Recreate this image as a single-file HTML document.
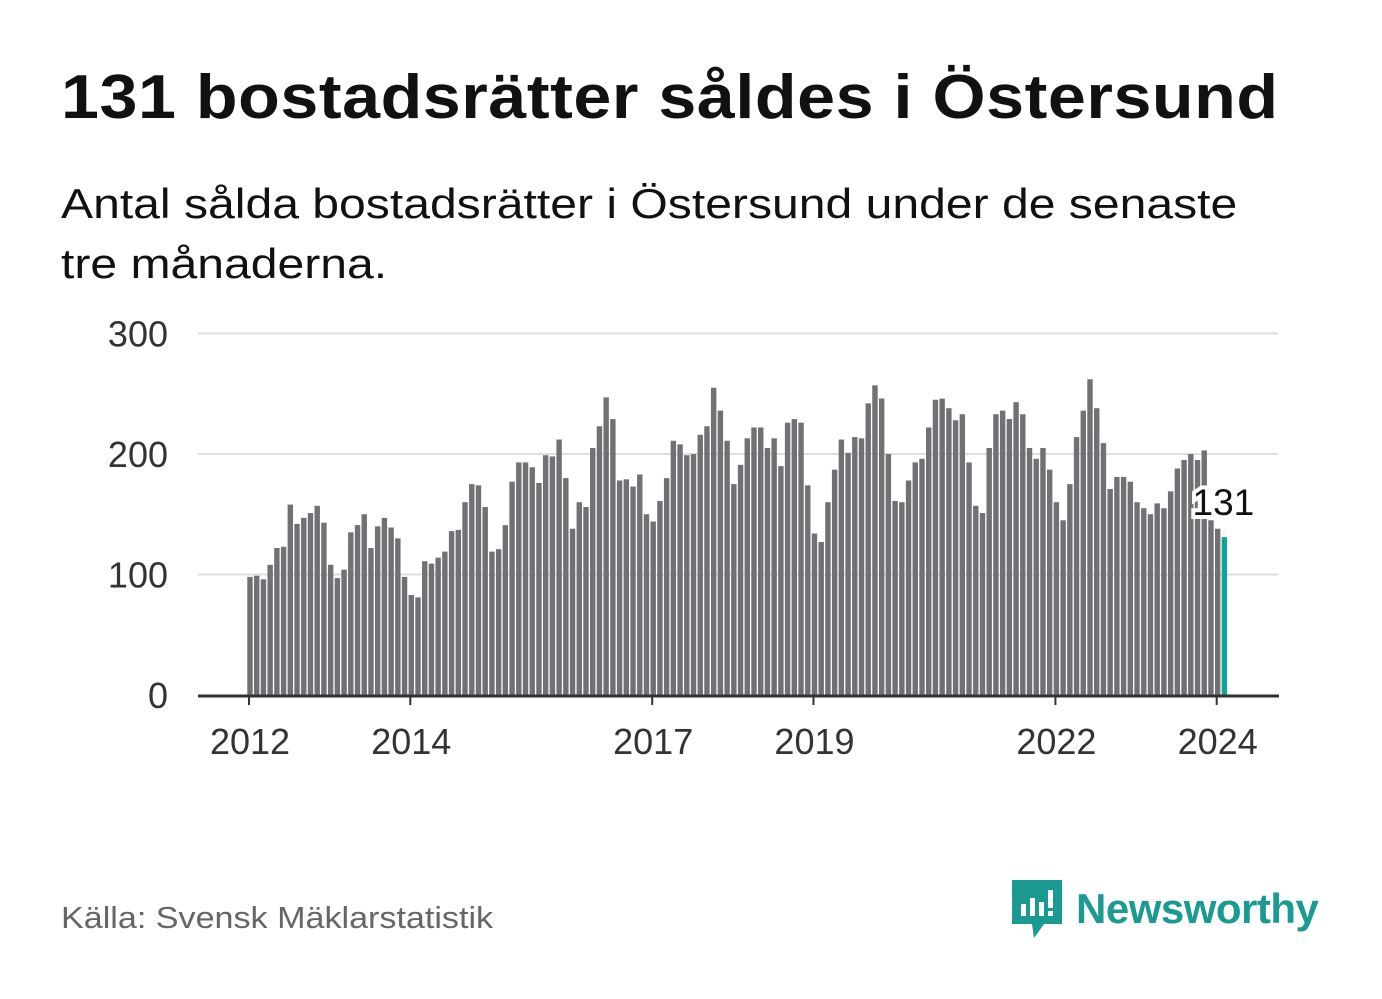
<!DOCTYPE html>
<html><head><meta charset="utf-8"><style>
body{margin:0;background:#fff;width:1382px;height:999px;overflow:hidden;font-family:"Liberation Sans",sans-serif;position:relative}
.t{position:absolute;left:61px;top:62px;font-size:62px;font-weight:bold;color:#111;margin:0;letter-spacing:0.5px;white-space:nowrap;transform:scaleX(1.1);transform-origin:left top}
.s{position:absolute;left:61px;top:174px;font-size:42px;color:#111;line-height:60px;white-space:nowrap;transform:scaleX(1.145);transform-origin:left top}
.src{position:absolute;left:61px;top:900px;font-size:31px;color:#666;white-space:nowrap;transform:scaleX(1.1);transform-origin:left top}
.logo{position:absolute;left:1012px;top:880px;display:flex;align-items:center}
.logo span{font-size:42px;font-weight:bold;color:#1a9a90;margin-left:14px;letter-spacing:-0.5px}
</style></head><body>
<h1 class="t">131 bostadsrätter såldes i Östersund</h1>
<div class="s">Antal sålda bostadsrätter i Östersund under de senaste<br>tre månaderna.</div>
<svg id="c" width="1382" height="999" style="position:absolute;left:0;top:0" font-family="Liberation Sans, sans-serif"></svg>
<div class="src">Källa: Svensk Mäklarstatistik</div>
<div class="logo">
<svg width="50" height="58" viewBox="0 0 50 58"><path d="M0 0H50V44H32L22 58L20 44H0Z" fill="#1a9a90"/><rect x="9" y="24" width="5" height="12" fill="#fff"/><rect x="18" y="18" width="5" height="18" fill="#fff"/><rect x="27" y="22" width="5" height="14" fill="#fff"/><rect x="36" y="10" width="5" height="18" fill="#fff"/><rect x="36" y="31" width="5" height="5" fill="#fff"/></svg>
<span>Newsworthy</span></div>
<script>
const yTicks=[0,100,200,300];
const xTickLabels=["2012","2014","2017","2019","2022","2024"];
const xTickIndex=[0,24,60,84,120,144];
const values=[98,99,96,108,122,123,158,142,147,151,157,143,
108,97,104,135,141,150,122,140,147,139,130,98,
83,81,111,109,114,119,136,137,160,175,174,156,
119,121,141,177,193,193,189,176,199,198,212,180,
138,160,156,205,223,247,229,178,179,173,183,150,
144,161,180,211,208,199,200,216,223,255,236,211,
175,191,213,222,222,205,213,190,226,229,226,174,
134,127,160,187,212,201,214,213,242,257,246,200,
161,160,178,193,196,222,245,246,238,228,233,193,
157,151,205,233,236,229,243,233,205,196,205,187,
160,145,175,214,236,262,238,209,171,181,181,177,
160,155,150,159,155,169,188,195,200,195,203,145,
138,131];
const svg=document.getElementById('c');const NS='http://www.w3.org/2000/svg';
const y0=695,pxPer=1.205,x0=250,step=6.72,bw=5.4;
const yS=v=>y0-v*pxPer, xS=i=>x0+i*step;
function mk(t,a){const e=document.createElementNS(NS,t);for(const k in a)e.setAttribute(k,a[k]);svg.appendChild(e);return e;}
yTicks.forEach(v=>{
 if(v>0){const g=mk('line',{x1:198,x2:1278,y1:yS(v),y2:yS(v),stroke:'#dedede','stroke-width':2});
 
 }
 const t=mk('text',{x:168,y:yS(v)+13,'text-anchor':'end','font-size':36,fill:'#333'});t.textContent=v;
 
 
});
values.forEach((v,i)=>{
 const last=i===values.length-1;
 const r=mk('rect',{x:xS(i)-bw/2,y:yS(v),width:bw,height:v*pxPer,fill:last?'#10a39a':'#707075'});
 
 
});
const ax=mk('line',{x1:198,x2:1279,y1:y0+1,y2:y0+1,stroke:'#333','stroke-width':3});


xTickIndex.forEach((idx,k)=>{
 const x=xS(idx)-1;
 const tk=mk('line',{x1:x,x2:x,y1:y0,y2:y0+10,stroke:'#333','stroke-width':2});
 
 
 const t=mk('text',{x:x+1,y:754,'text-anchor':'middle','font-size':36,fill:'#333'});t.textContent=xTickLabels[k];
 
 
});
const li=values.length-1;
const lab=mk('text',{x:xS(li)-1,y:yS(values[li])-22,'text-anchor':'middle','font-size':37,fill:'#111',stroke:'#fff','stroke-width':8,'paint-order':'stroke'});
lab.textContent=values[li];


</script>
</body></html>
